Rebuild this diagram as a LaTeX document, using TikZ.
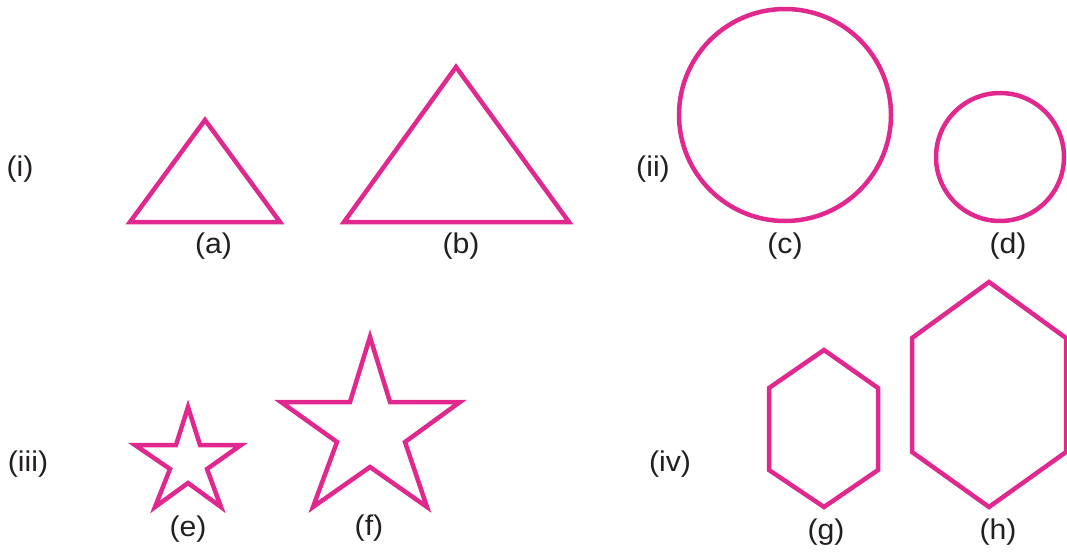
\documentclass[tikz,border=0pt]{standalone}
\usepackage{fontspec}
\setmainfont{Liberation Sans}
\definecolor{shapepink}{RGB}{224,40,142}
\definecolor{labelgray}{RGB}{35,31,32}
\begin{document}
\begin{tikzpicture}[x=1pt,y=-1pt,
  shapeline/.style={draw=shapepink,line width=4.5pt,line join=miter},
  lbl/.style={text=labelgray,font=\fontsize{28.5}{32}\selectfont,inner sep=0pt,xscale=1.06}]
\useasboundingbox (0,0) rectangle (1067,551);
\begin{scope}
\clip (0,0) rectangle (1067,551);
% (a) triangle
\draw[shapeline] (205,120) -- (280,222) -- (130,222) -- cycle;
% (b) triangle
\draw[shapeline] (456,67) -- (569,222) -- (344,222) -- cycle;
% (c) circle
\draw[shapeline] (785,115) circle[radius=106];
% (d) circle
\draw[shapeline] (1000,157) circle[radius=64];
% (e) star
\draw[shapeline] (188,407) -- (200,445) -- (241,445) -- (207,469) -- (221,507)
  -- (188,483) -- (155,507) -- (170,469) -- (135,445) -- (176,445) -- cycle;
% (f) star
\draw[shapeline] (370,337) -- (390,402) -- (460,402) -- (405,442) -- (427,507)
  -- (370,467) -- (313,507) -- (337,442) -- (281,402) -- (350,402) -- cycle;
% (g) hexagon
\draw[shapeline] (824,350) -- (878,388) -- (878,470) -- (824,507) -- (769,470) -- (769,388) -- cycle;
% (h) hexagon
\draw[shapeline] (989,282) -- (1066,338) -- (1066,452) -- (989,507) -- (912,452) -- (912,338) -- cycle;
\end{scope}
% labels
\node[lbl] (li) at (20,169) {(i)};
\node[lbl] (lii) at (653,169) {(ii)};
\node[lbl] (liii) at (28,464) {(iii)};
\node[lbl] (liv) at (670,464) {(iv)};
\node[lbl] (la) at (213.5,246) {(a)};
\node[lbl] (lb) at (461,246) {(b)};
\node[lbl] (lc) at (785,246) {(c)};
\node[lbl] (ld) at (1008,246) {(d)};
\node[lbl] (le) at (188,529) {(e)};
\node[lbl] (lf) at (369,528) {(f)};
\node[lbl] (lg) at (826,532) {(g)};
\node[lbl] (lh) at (998,532) {(h)};
\end{tikzpicture}
\end{document}
